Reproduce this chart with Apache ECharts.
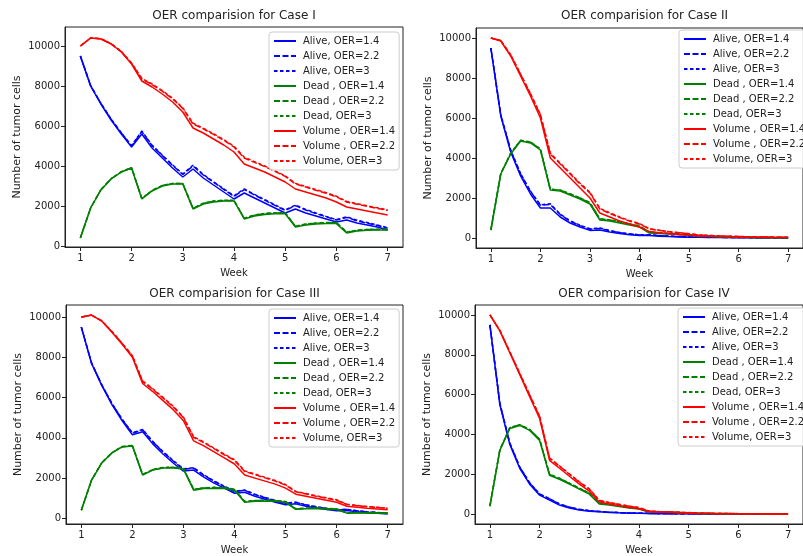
<!DOCTYPE html>
<html>
<head>
<meta charset="utf-8">
<title>OER comparision</title>
<script src="https://cdn.jsdelivr.net/npm/echarts@6/dist/echarts.min.js"></script>
<style>
html, body { margin: 0; padding: 0; background: #fff; }
#chart { width: 803px; height: 556px; }
</style>
</head>
<body>
<div id="chart"></div>
<script>
// x values (weeks) and tick labels
var weeks = [1.0,1.2,1.4,1.6,1.8,2.0,2.2,2.4,2.6,2.8,3.0,3.2,3.4,3.6,3.8,4.0,4.2,4.4,4.6,4.8,5.0,5.2,5.4,5.6,5.8,6.0,6.2,6.4,6.6,6.8,7.0];
var weekTicks = [1,2,3,4,5,6,7];
var cellTicks = [0,2000,4000,6000,8000,10000];
var caseNames = ["I", "II", "III", "IV"];
var seriesNames = ["Alive, OER=1.4", "Alive, OER=2.2", "Alive, OER=3",
	"Dead , OER=1.4", "Dead , OER=2.2", "Dead, OER=3",
	"Volume , OER=1.4", "Volume , OER=2.2", "Volume, OER=3"];

// Case I
var c1Alive14 = [9500,8000,7100,6300,5600,4950,5600,4900,4400,3900,3450,3850,3400,3050,2700,2350,2650,2400,2150,1900,1650,1850,1650,1500,1350,1200,1300,1150,1050,950,800];
var c1Alive22 = [9500,8020,7130,6340,5650,5000,5720,5020,4520,4030,3580,4000,3550,3190,2830,2480,2820,2550,2290,2030,1780,2020,1800,1620,1460,1300,1430,1260,1140,1030,890];
var c1Alive3  = [9500,8030,7140,6350,5660,5020,5750,5040,4540,4060,3600,4040,3580,3210,2860,2510,2860,2580,2320,2060,1800,2050,1830,1650,1480,1320,1460,1290,1170,1050,910];
var c1Dead14  = [400,1900,2800,3350,3700,3900,2350,2750,3000,3100,3100,1850,2100,2200,2250,2250,1350,1500,1580,1610,1610,950,1050,1100,1120,1120,650,750,790,800,800];
var c1Dead22  = [400,1900,2810,3360,3710,3910,2370,2770,3020,3120,3120,1880,2130,2240,2280,2280,1380,1540,1620,1650,1650,980,1090,1140,1160,1160,690,780,820,830,830];
var c1Dead3   = [400,1900,2815,3365,3715,3920,2380,2780,3030,3130,3130,1890,2140,2250,2290,2290,1390,1550,1630,1660,1660,990,1100,1150,1170,1170,700,790,830,840,840];
var c1Vol14   = [10000,10400,10350,10100,9700,9100,8250,7950,7600,7200,6700,5900,5650,5350,5050,4700,4100,3900,3700,3450,3200,2850,2700,2550,2400,2200,1950,1850,1750,1650,1550];
var c1Vol22   = [10000,10400,10360,10110,9720,9130,8350,8070,7740,7360,6880,6100,5860,5580,5290,4950,4400,4180,3970,3730,3480,3100,2950,2790,2640,2460,2200,2090,1980,1880,1780];
var c1Vol3    = [10000,10400,10365,10120,9730,9150,8380,8100,7770,7390,6910,6140,5890,5610,5320,4990,4440,4220,4000,3760,3510,3130,2980,2820,2670,2490,2230,2120,2010,1910,1810];

// Case II
var c2Alive14 = [9500,6100,4300,3100,2200,1500,1500,1050,750,550,380,400,300,220,160,120,120,90,70,55,40,40,30,25,20,15,15,12,10,8,6];
var c2Alive22 = [9500,6150,4380,3200,2320,1640,1680,1170,840,620,440,480,360,270,200,150,155,115,90,70,52,52,40,32,26,20,20,16,13,10,8];
var c2Alive3  = [9500,6170,4400,3220,2340,1660,1710,1190,860,640,460,500,375,280,210,160,165,122,95,74,55,55,42,34,27,21,21,17,14,11,9];
var c2Dead14  = [400,3200,4200,4850,4750,4400,2400,2350,2150,1950,1700,900,850,750,650,550,250,230,200,170,140,80,70,60,50,45,25,22,20,18,15];
var c2Dead22  = [400,3220,4230,4880,4790,4450,2430,2390,2200,2000,1760,950,900,800,700,600,290,260,230,195,165,95,85,72,62,54,32,28,25,22,19];
var c2Dead3   = [400,3225,4240,4890,4800,4460,2440,2400,2210,2010,1770,960,910,810,710,610,295,265,235,200,170,98,88,75,64,56,33,29,26,23,20];
var c2Vol14   = [10000,9850,9100,8100,7100,6000,4000,3500,3000,2500,2000,1250,1050,850,700,550,320,260,210,170,140,100,85,70,60,50,40,35,30,25,20];
var c2Vol22   = [10000,9870,9150,8180,7200,6150,4200,3700,3200,2700,2250,1450,1230,1020,850,700,450,380,310,260,210,150,125,105,90,75,60,52,45,38,32];
var c2Vol3    = [10000,9875,9160,8200,7220,6180,4240,3740,3240,2740,2290,1480,1260,1050,870,720,460,390,320,265,215,155,130,108,92,77,62,54,46,39,33];

// Case III
var c3Alive14 = [9500,7700,6600,5650,4850,4150,4300,3700,3200,2750,2350,2400,2050,1750,1500,1250,1300,1100,950,800,680,720,600,520,440,380,390,330,280,250,220];
var c3Alive22 = [9500,7720,6630,5700,4910,4230,4400,3800,3300,2850,2440,2500,2140,1840,1580,1330,1390,1180,1020,870,740,790,660,570,490,420,440,370,320,280,250];
var c3Alive3  = [9500,7725,6640,5710,4920,4250,4420,3820,3320,2870,2460,2520,2160,1860,1600,1350,1410,1200,1040,890,755,805,675,585,500,430,450,380,330,290,255];
var c3Dead14  = [400,1900,2750,3250,3550,3600,2150,2400,2500,2500,2450,1400,1480,1500,1480,1400,800,850,860,850,800,450,480,490,470,440,260,270,270,260,250];
var c3Dead22  = [400,1900,2760,3260,3560,3620,2170,2420,2520,2530,2480,1430,1510,1530,1510,1440,830,880,890,880,830,470,500,510,490,460,275,285,285,275,265];
var c3Dead3   = [400,1900,2765,3265,3570,3630,2180,2430,2530,2540,2490,1440,1520,1540,1520,1450,840,890,900,890,840,475,505,515,495,465,280,290,290,280,270];
var c3Vol14   = [10000,10100,9800,9250,8650,8000,6700,6300,5850,5400,4850,3850,3600,3300,3000,2700,2150,2000,1850,1700,1500,1200,1100,1000,900,800,600,550,500,470,430];
var c3Vol22   = [10000,10100,9810,9270,8690,8060,6800,6410,5980,5540,5000,4020,3760,3460,3160,2880,2330,2170,2010,1850,1650,1320,1210,1100,1000,900,690,630,580,540,500];
var c3Vol3    = [10000,10100,9815,9280,8700,8080,6830,6440,6010,5570,5030,4050,3790,3490,3190,2910,2360,2200,2040,1880,1680,1340,1230,1120,1020,920,700,640,590,550,510];

// Case IV
var c4Alive14 = [9500,5500,3500,2300,1500,950,700,450,300,200,140,110,80,60,45,35,25,20,15,12,10,8,6,5,4,3,3,2,2,2,2];
var c4Alive22 = [9500,5550,3560,2360,1560,1000,760,500,340,230,165,130,96,72,55,43,32,25,19,15,12,10,8,6,5,4,4,3,3,2,2];
var c4Alive3  = [9500,5560,3570,2370,1570,1010,770,510,345,235,170,133,98,74,56,44,33,26,20,16,13,10,8,6,5,4,4,3,3,2,2];
var c4Dead14  = [400,3200,4300,4450,4200,3700,1950,1750,1500,1250,1000,500,450,380,300,250,100,90,80,70,55,30,25,20,18,15,10,9,8,7,5];
var c4Dead22  = [400,3220,4330,4480,4240,3750,1990,1790,1540,1290,1040,540,480,410,330,275,115,102,90,78,62,36,30,24,21,17,12,11,10,8,6];
var c4Dead3   = [400,3225,4340,4490,4250,3760,2000,1800,1550,1300,1050,550,490,420,335,280,118,105,92,80,64,37,31,25,22,18,12,11,10,8,6];
var c4Vol14   = [10000,9200,8100,7000,5900,4800,2700,2300,1900,1500,1150,600,500,420,340,270,120,100,85,70,55,30,25,20,18,15,10,9,8,7,6];
var c4Vol22   = [10000,9220,8140,7060,5980,4900,2800,2400,2000,1600,1250,680,570,480,395,320,150,125,105,88,70,40,34,28,24,20,14,12,11,9,8];
var c4Vol3    = [10000,9225,8150,7070,5990,4920,2820,2420,2020,1620,1270,690,580,490,400,325,153,128,108,90,72,41,35,29,25,21,15,13,11,9,8];

var caseData = [
	[c1Alive14, c1Alive22, c1Alive3, c1Dead14, c1Dead22, c1Dead3, c1Vol14, c1Vol22, c1Vol3],
	[c2Alive14, c2Alive22, c2Alive3, c2Dead14, c2Dead22, c2Dead3, c2Vol14, c2Vol22, c2Vol3],
	[c3Alive14, c3Alive22, c3Alive3, c3Dead14, c3Dead22, c3Dead3, c3Vol14, c3Vol22, c3Vol3],
	[c4Alive14, c4Alive22, c4Alive3, c4Dead14, c4Dead22, c4Dead3, c4Vol14, c4Vol22, c4Vol3]
];

// layout of the 4 panels
var panels = [
	{left: 65,  top: 27,  width: 338, height: 220, ymin: -50,  ymax: 10950, legendLeft: 269, legendTop: 32},
	{left: 476, top: 28,  width: 337, height: 220, ymin: -500, ymax: 10500, legendLeft: 679, legendTop: 30},
	{left: 66,  top: 305, width: 337, height: 219, ymin: -280, ymax: 10600, legendLeft: 269, legendTop: 309},
	{left: 475, top: 305, width: 338, height: 219, ymin: -500, ymax: 10500, legendLeft: 678, legendTop: 308}
];
var titleTops = [10, 10, 288, 288];

var colors = ["#0000ff", "#008000", "#ff0000"];
var dashes = ["solid", [6, 2.5], [3.5, 2.5]];
var font = "DejaVu Sans";
var textColor = "#222";

var option = {
	animation: false,
	backgroundColor: "#fff",
	title: [], grid: [], xAxis: [], yAxis: [], legend: [], series: []
};

for (var i = 0; i < panels.length; i++) {
	var p = panels[i];
	option.title.push({
		text: "OER comparision for Case " + caseNames[i],
		left: p.left + p.width / 2, top: titleTops[i], textAlign: "center", padding: 0,
		textStyle: {fontFamily: font, fontSize: 12, fontWeight: "normal", color: textColor}
	});
	option.grid.push({
		left: p.left, top: p.top, width: p.width, height: p.height,
		show: true, borderColor: "#222", borderWidth: 1, backgroundColor: "transparent"
	});
	option.xAxis.push({
		type: "value", gridIndex: i, min: 0.7, max: 7.3,
		name: "Week", nameLocation: "middle", nameGap: 21,
		nameTextStyle: {fontFamily: font, fontSize: 10, color: textColor},
		axisLine: {show: true, onZero: false, lineStyle: {color: "#222", width: 1}},
		axisTick: {show: true, length: 4, customValues: weekTicks, lineStyle: {color: "#222"}},
		axisLabel: {show: true, margin: 6, customValues: weekTicks, fontFamily: font, fontSize: 10, color: textColor},
		splitLine: {show: false}
	});
	option.yAxis.push({
		type: "value", gridIndex: i, min: p.ymin, max: p.ymax,
		name: "Number of tumor cells", nameLocation: "middle", nameGap: 42,
		nameTextStyle: {fontFamily: font, fontSize: 11, color: textColor},
		axisLine: {show: true, onZero: false, lineStyle: {color: "#222", width: 1}},
		axisTick: {show: true, length: 4, customValues: cellTicks, lineStyle: {color: "#222"}},
		axisLabel: {
			show: true, margin: 5, customValues: cellTicks, fontFamily: font, fontSize: 10, color: textColor,
			formatter: function(v){ return String(v); }
		},
		splitLine: {show: false}
	});
	option.legend.push({
		orient: "vertical", left: p.legendLeft, top: p.legendTop,
		data: seriesNames, itemWidth: 22, itemHeight: 10, itemGap: 5,
		padding: [4, 4, 4, 4], backgroundColor: "rgba(255,255,255,0.85)",
		borderColor: "#ccc", borderWidth: 1, borderRadius: 3,
		itemStyle: {opacity: 0},  // hide the circle marker, keep only the line
		textStyle: {fontFamily: font, fontSize: 10, color: textColor, padding: [0, 0, 0, 2]}
	});
	for (var s = 0; s < seriesNames.length; s++) {
		var values = caseData[i][s];
		var pts = [];
		for (var k = 0; k < weeks.length; k++) {
			pts.push([weeks[k], values[k]]);
		}
		option.series.push({
			name: seriesNames[s], type: "line", xAxisIndex: i, yAxisIndex: i,
			data: pts, symbol: "none", showSymbol: false, silent: true,
			lineStyle: {color: colors[Math.floor(s / 3)], width: 1.5, type: dashes[s % 3]},
			itemStyle: {color: colors[Math.floor(s / 3)]}
		});
	}
}

var myChart = echarts.init(document.getElementById("chart"), null, {renderer: "canvas"});
myChart.setOption(option);
</script>
</body>
</html>
